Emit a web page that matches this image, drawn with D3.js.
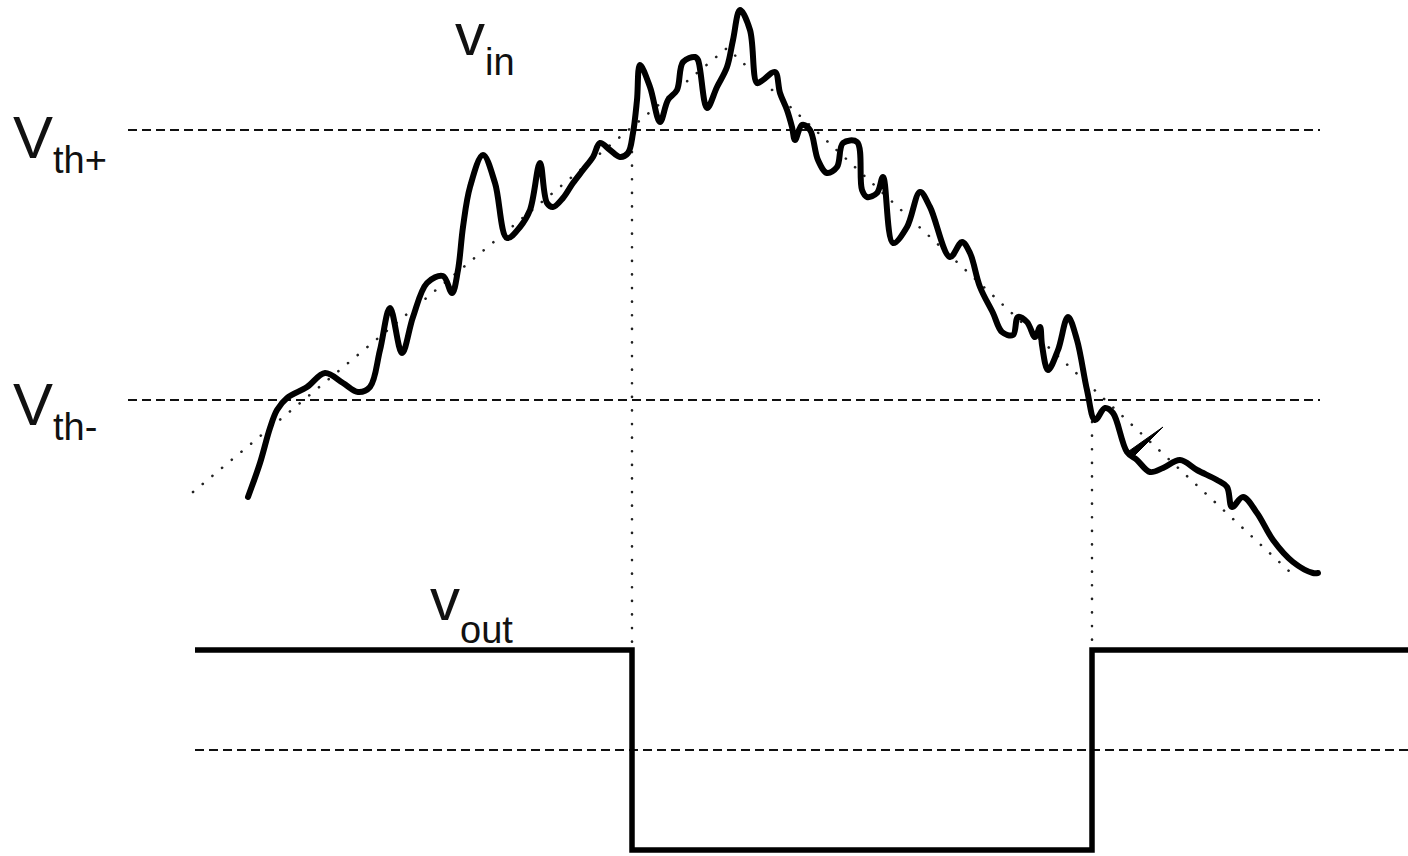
<!DOCTYPE html>
<html>
<head>
<meta charset="utf-8">
<script src="https://cdn.jsdelivr.net/npm/d3@7"></script>
<style>
	body { margin: 0; background: #fff; }
	svg { display: block; }
	text { font-family: "Liberation Sans", Arial, sans-serif; fill: #111; }
</style>
</head>
<body>
<svg id="plot" width="1408" height="856"></svg>
<script>
function whenDocumentLoaded(action) {
	if (document.readyState === "loading") {
		document.addEventListener("DOMContentLoaded", action);
	} else {
		action();
	}
}

// noisy input signal (time, volts)
const VIN_T = [5.3, 6.5, 7.5, 8.2, 9.2, 11.2, 13.0, 14.8, 16.3, 17.5, 18.5, 19.5, 20.7, 21.8, 23.2, 24.8, 25.7, 26.3,
	26.8, 27.5, 28.8, 30.0, 31.2, 32.5, 33.5, 34.5, 35.2, 35.8, 36.8, 37.8, 38.8, 39.8, 40.5, 41.5, 42.5, 43.3, 43.8,
	44.2, 44.5, 45.5, 46.5, 47.3, 48.2, 48.8, 50.0, 50.3, 51.2, 52.2, 53.2, 53.8, 54.5, 55.5, 56.2, 56.8, 58.0, 58.5,
	59.2, 59.7, 60.0, 60.7, 61.5, 62.3, 63.2, 64.2, 64.8, 66.2, 66.7, 67.2, 68.2, 68.8, 69.8, 71.2, 72.5, 73.5, 75.5,
	76.7, 77.5, 78.5, 79.8, 80.7, 81.8, 82.3, 83.2, 84.0, 84.5, 84.7, 85.3, 86.3, 87.3, 88.2, 89.2, 90.0, 91.0, 91.8,
	93.2, 94.2, 95.5, 96.8, 98.5, 100.2, 102.2, 103.2, 103.7, 104.8, 106.2, 107.8, 109.8, 111.8, 112.3];
const VIN_V = [-2.32, -1.98, -1.63, -1.45, -1.33, -1.22, -1.08, -1.18, -1.27, -1.22, -0.85, -0.43, -0.88, -0.52, -0.18,
	-0.11, -0.28, -0.05, 0.38, 0.78, 1.10, 0.82, 0.27, 0.38, 0.55, 1.02, 0.62, 0.58, 0.67, 0.82, 0.95, 1.08, 1.22, 1.15,
	1.08, 1.12, 1.32, 1.65, 2.00, 1.78, 1.43, 1.65, 1.75, 2.03, 2.08, 2.05, 1.57, 1.78, 1.98, 2.25, 2.55, 2.35, 1.82,
	1.85, 1.93, 1.72, 1.55, 1.38, 1.25, 1.40, 1.35, 1.05, 0.92, 0.98, 1.22, 1.23, 0.75, 0.68, 0.72, 0.88, 0.22, 0.38,
	0.73, 0.58, 0.08, 0.23, 0.12, -0.22, -0.48, -0.67, -0.70, -0.52, -0.57, -0.72, -0.62, -0.80, -1.05, -0.85, -0.52,
	-0.75, -1.25, -1.55, -1.43, -1.48, -1.87, -1.95, -2.07, -2.03, -1.95, -2.05, -2.15, -2.22, -2.42, -2.32, -2.48,
	-2.75, -2.97, -3.08, -3.08];

// little hook drawn off the signal
const GLITCH_T = [93.4, 96.8, 94.0];
const GLITCH_V = [-1.86, -1.62, -1.90];

// underlying (noise free) triangle
const TREND_T = [-0.2, 53.2, 109.5];
const TREND_V = [-2.27, 2.17, -3.07];

// thresholds
const VTH = [1.35, -1.35];
const VTH_SUB = ['th+', 'th-'];
const VTH_SPAN = [-6.7, 112.5];

// output of the comparator
const VOUT_T = [0, 43.7, 89.7, 121.3];
const VOUT_LEVEL = [1, -1, 1, 1];
const SWITCH_T = [43.7, 89.7];
const SWITCH_FROM = [1.35, -1.35];

whenDocumentLoaded(() => {
	const svg = d3.select('#plot');

	const x = d3.scaleLinear().domain([0, 121.3]).range([195, 1408]);
	const yIn = d3.scaleLinear().domain([-1.35, 1.35]).range([400, 130]);
	const yOut = d3.scaleLinear().domain([-1, 1]).range([850, 650]);

	const vin = VIN_T.map((t, i) => ({t: t, v: VIN_V[i]}));
	const trend = TREND_T.map((t, i) => ({t: t, v: TREND_V[i]}));
	const glitch = GLITCH_T.map((t, i) => ({t: t, v: GLITCH_V[i]}));
	const vout = VOUT_T.map((t, i) => ({t: t, v: VOUT_LEVEL[i]}));

	const lineIn = d3.line().x(d => x(d.t)).y(d => yIn(d.v));

	// threshold dashes
	svg.append('g')
		.selectAll('line')
		.data(VTH)
		.enter().append('line')
			.attr('x1', x(VTH_SPAN[0]))
			.attr('x2', x(VTH_SPAN[1]))
			.attr('y1', d => yIn(d))
			.attr('y2', d => yIn(d))
			.attr('stroke', '#111')
			.attr('stroke-width', 2.2)
			.attr('stroke-dasharray', '9,5');

	// zero line of the output
	svg.append('line')
		.attr('x1', x(0)).attr('x2', x(121.3))
		.attr('y1', yOut(0)).attr('y2', yOut(0))
		.attr('stroke', '#111')
		.attr('stroke-width', 2.2)
		.attr('stroke-dasharray', '9,5');

	// dotted trend
	svg.append('path')
		.datum(trend)
		.attr('d', lineIn)
		.attr('fill', 'none')
		.attr('stroke', '#222')
		.attr('stroke-width', 2.6)
		.attr('stroke-linecap', 'round')
		.attr('stroke-dasharray', '0.1,12.5');

	// dotted drop lines at the switching instants
	svg.append('g')
		.selectAll('line')
		.data(SWITCH_T)
		.enter().append('line')
			.attr('x1', d => x(d))
			.attr('x2', d => x(d))
			.attr('y1', (d, i) => yIn(SWITCH_FROM[i]) + 22)
			.attr('y2', yOut(-1))
			.attr('stroke', '#222')
			.attr('stroke-width', 2.6)
			.attr('stroke-linecap', 'round')
			.attr('stroke-dasharray', '0.1,13.5');

	// noisy input
	svg.append('path')
		.datum(vin)
		.attr('d', lineIn.curve(d3.curveCatmullRom.alpha(0.5)))
		.attr('fill', 'none')
		.attr('stroke', '#000')
		.attr('stroke-width', 6)
		.attr('stroke-linejoin', 'round')
		.attr('stroke-linecap', 'round');

	svg.append('path')
		.attr('d', d3.line().x(d => x(d.t)).y(d => yIn(d.v))(glitch) + 'Z')
		.attr('fill', '#000')
		.attr('stroke', '#000')
		.attr('stroke-width', 1)
		.attr('stroke-linejoin', 'round');

	// output square wave
	svg.append('path')
		.datum(vout)
		.attr('d', d3.line().x(d => x(d.t)).y(d => yOut(d.v)).curve(d3.curveStepAfter))
		.attr('fill', 'none')
		.attr('stroke', '#000')
		.attr('stroke-width', 5.5)
		.attr('stroke-linejoin', 'miter');

	// labels
	const labels = svg.append('g');
	VTH.forEach((v, i) => {
		const t = labels.append('text')
			.attr('x', 13)
			.attr('y', yIn(v) + 28 - (i * 3));
		t.append('tspan').attr('font-size', 60).text('V');
		t.append('tspan').attr('font-size', 38).attr('dy', 15).text(VTH_SUB[i]);
	});

	const tin = labels.append('text').attr('x', 455).attr('y', 55);
	tin.append('tspan').attr('font-size', 60).text('v');
	tin.append('tspan').attr('font-size', 38).attr('dy', 20).text('in');

	const tout = labels.append('text').attr('x', 430).attr('y', 620);
	tout.append('tspan').attr('font-size', 60).text('v');
	tout.append('tspan').attr('font-size', 38).attr('dy', 23).text('out');
});
</script>
</body>
</html>
